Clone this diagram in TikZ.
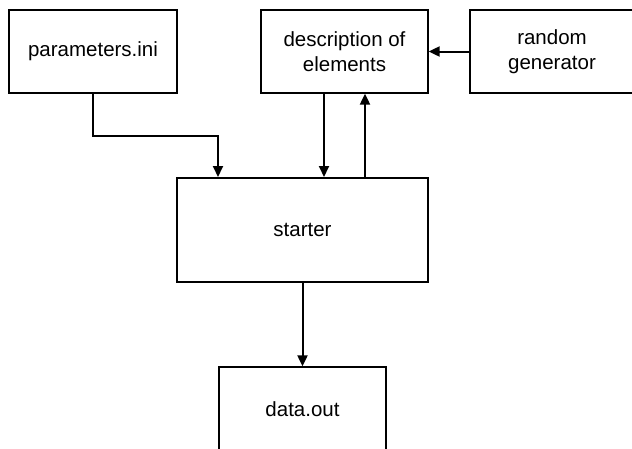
\documentclass[tikz,border=0pt]{standalone}
\usepackage{fontspec}
\setmainfont{Liberation Sans}
\usetikzlibrary{arrows.meta,calc}
\begin{document}
\begin{tikzpicture}[x=1pt,y=-1pt,
  box/.style={draw,line width=1.3pt,rectangle,align=center,inner sep=0pt,
    font=\fontsize{20.5}{25}\selectfont},
  bigbox/.style={box,line width=2pt},
  arr/.style={line width=2pt,-{Triangle[length=11pt,width=10pt]}}]
\useasboundingbox (0,0) rectangle (632,448);
\node[box,minimum width=168pt,minimum height=83pt] (params) at (93,51.5) {parameters.ini};
\node[box,minimum width=167pt,minimum height=83pt] (desc) at (344.5,51.5) {description of\\elements};
\node[box,minimum width=164pt,minimum height=83pt] (rand) at (552,51.5) {random\\generator};
\node[bigbox,minimum width=251pt,minimum height=104pt] (starter) at (302.5,230) {starter};
\node[box,minimum width=167pt,minimum height=84pt] (dataout) at (302.5,409) {data.out};
\draw[arr] (params.south) -- (params.south |- 0,136) -| ([xshift=42pt]starter.north west);
\draw[arr] ([xshift=-20.5pt]desc.south) -- ([xshift=-20.5pt]desc.south |- starter.north);
\draw[arr] ([xshift=20.5pt]desc.south |- starter.north) -- ([xshift=20.5pt]desc.south);
\draw[arr] (rand.west) -- (desc.east);
\draw[arr] (starter.south) -- (dataout.north);
\end{tikzpicture}
\end{document}
